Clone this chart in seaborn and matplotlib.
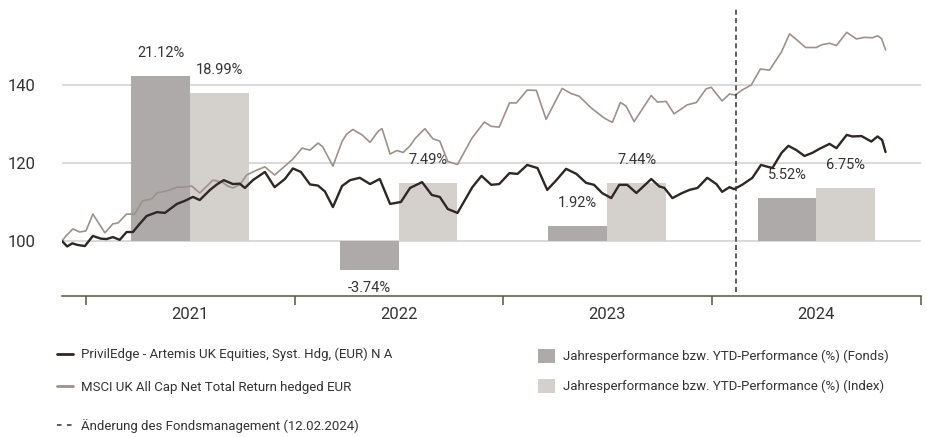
import pandas as pd
import matplotlib
matplotlib.use('Agg')
import matplotlib.pyplot as plt
import matplotlib.dates as mdates
import matplotlib.ticker as mticker
from matplotlib.lines import Line2D
from matplotlib.patches import Patch
import seaborn as sns

fund_dates = [
    '2020-11-20', '2020-11-29', '2020-12-08', '2020-12-17', '2020-12-30',
    '2021-01-13', '2021-01-27', '2021-02-06', '2021-02-17', '2021-03-01', '2021-03-13', '2021-03-24',
    '2021-04-05', '2021-04-17', '2021-05-05', '2021-05-19', '2021-06-09', '2021-06-23', '2021-07-07',
    '2021-07-19', '2021-08-06', '2021-08-18', '2021-08-30', '2021-09-15', '2021-09-27', '2021-10-06',
    '2021-10-20', '2021-11-10', '2021-11-27', '2021-12-15', '2021-12-29',
    '2022-01-12', '2022-01-28', '2022-02-11', '2022-02-23', '2022-03-09', '2022-03-25', '2022-04-08',
    '2022-04-25', '2022-05-13', '2022-05-30', '2022-06-17', '2022-07-06', '2022-07-22', '2022-08-12',
    '2022-08-29', '2022-09-12', '2022-09-26', '2022-10-13', '2022-11-08', '2022-11-24', '2022-12-11',
    '2022-12-25',
    '2023-01-12', '2023-01-26', '2023-02-12', '2023-03-02', '2023-03-19', '2023-04-04', '2023-04-21',
    '2023-05-09', '2023-05-26', '2023-06-09', '2023-06-23', '2023-07-09', '2023-07-23', '2023-08-06',
    '2023-08-22', '2023-09-17', '2023-10-01', '2023-10-10', '2023-10-24', '2023-11-10', '2023-11-23',
    '2023-12-07', '2023-12-24',
    '2024-01-09', '2024-01-19', '2024-02-01', '2024-02-09', '2024-02-23', '2024-03-12', '2024-03-27',
    '2024-04-16', '2024-05-02', '2024-05-14', '2024-05-28', '2024-06-11', '2024-06-25', '2024-07-07',
    '2024-07-25', '2024-08-06', '2024-08-24', '2024-09-03', '2024-09-19', '2024-10-06', '2024-10-17',
    '2024-10-25', '2024-10-31',
]
fund_values = [
    100.0, 98.6, 99.4, 99.0, 98.7,
    101.3, 100.6, 100.5, 101.0, 100.3, 102.3, 102.3,
    104.4, 106.4, 107.4, 107.2, 109.5, 110.3, 111.3,
    110.5, 113.1, 114.5, 115.6, 114.6, 114.7, 113.6,
    115.6, 117.7, 113.8, 115.9, 118.6,
    117.7, 114.5, 114.2, 112.7, 108.7, 114.1, 115.6,
    116.2, 114.6, 115.9, 109.5, 110.0, 113.6, 115.1,
    111.8, 111.3, 108.2, 107.2, 113.8, 116.7, 114.4,
    114.6,
    117.4, 117.2, 119.5, 118.7, 113.1, 115.6, 118.5,
    117.2, 114.9, 114.4, 112.3, 111.0, 114.4, 114.4,
    112.3, 115.9, 114.0, 113.6, 111.0, 112.3, 113.1,
    113.6, 116.2,
    114.6, 112.6, 113.8, 113.3, 114.4, 116.2, 119.5,
    118.7, 122.6, 124.4, 123.3, 121.8, 122.6, 123.6,
    124.9, 123.8, 127.2, 126.8, 126.9, 125.5, 126.8,
    125.9, 122.8,
]

index_dates = [
    '2020-11-20', '2020-11-27', '2020-12-09', '2020-12-21',
    '2021-01-01', '2021-01-13', '2021-02-03', '2021-02-17', '2021-02-26', '2021-03-13', '2021-03-27',
    '2021-04-10', '2021-04-26', '2021-05-05', '2021-05-15', '2021-05-28', '2021-06-09', '2021-06-23',
    '2021-07-05', '2021-07-19', '2021-08-11', '2021-08-27', '2021-09-06', '2021-09-15', '2021-09-27',
    '2021-10-09', '2021-10-27', '2021-11-10', '2021-11-27', '2021-12-11', '2021-12-29',
    '2022-01-14', '2022-01-28', '2022-02-11', '2022-02-19', '2022-03-09', '2022-03-25', '2022-04-02',
    '2022-04-13', '2022-04-29', '2022-05-13', '2022-05-27', '2022-06-03', '2022-06-17', '2022-06-29',
    '2022-07-10', '2022-07-22', '2022-07-31', '2022-08-17', '2022-08-31', '2022-09-12', '2022-09-26',
    '2022-10-13', '2022-11-07', '2022-11-29', '2022-12-11', '2022-12-25',
    '2023-01-12', '2023-01-24', '2023-02-12', '2023-02-28', '2023-03-17', '2023-04-14', '2023-04-30',
    '2023-05-14', '2023-06-04', '2023-06-27', '2023-07-11', '2023-07-25', '2023-08-04', '2023-08-18',
    '2023-09-17', '2023-09-28', '2023-10-13', '2023-10-27', '2023-11-19', '2023-12-05', '2023-12-22',
    '2023-12-31',
    '2024-01-19', '2024-02-01', '2024-02-11', '2024-02-23', '2024-03-10', '2024-03-26', '2024-04-11',
    '2024-05-02', '2024-05-16', '2024-05-30', '2024-06-13', '2024-07-02', '2024-07-11', '2024-07-25',
    '2024-08-06', '2024-08-24', '2024-09-10', '2024-09-24', '2024-10-08', '2024-10-17', '2024-10-24',
    '2024-10-31',
]
index_values = [
    100.0, 101.3, 103.1, 102.3,
    102.6, 106.9, 102.1, 104.4, 104.6, 106.9, 106.9,
    110.3, 110.8, 112.3, 112.6, 113.1, 113.8, 113.8,
    114.1, 112.3, 115.6, 115.1, 114.1, 113.6, 114.4,
    116.9, 118.2, 119.0, 116.9, 118.7, 121.0,
    123.8, 123.3, 125.1, 124.2, 119.2, 125.5, 127.4,
    128.6, 127.2, 125.3, 128.1, 128.8, 122.3, 123.2,
    122.7, 124.4, 126.3, 128.8, 126.2, 125.6, 120.4,
    119.6, 126.3, 130.5, 129.4, 129.2,
    135.4, 135.4, 138.7, 138.6, 131.2, 139.1, 137.8,
    137.1, 134.1, 131.5, 130.4, 135.5, 134.6, 130.6,
    137.3, 135.6, 135.8, 132.6, 134.9, 135.5, 139.0,
    139.4,
    135.9, 137.7, 137.4, 138.7, 140.0, 144.1, 143.8,
    148.5, 153.1, 151.4, 149.6, 149.6, 150.3, 150.7,
    150.1, 153.5, 151.8, 152.2, 152.1, 152.6, 151.9,
    149.0,
]

years = [2021, 2022, 2023, 2024]
perf_fund = [21.12, -3.74, 1.92, 5.52]
perf_index = [18.99, 7.49, 7.44, 6.75]
mgmt_change = '2024-02-12'

label_fund = 'PrivilEdge - Artemis UK Equities, Syst. Hdg, (EUR) N A'
label_index = 'MSCI UK All Cap Net Total Return hedged EUR'
label_bar_fund = 'Jahresperformance bzw. YTD-Performance (%) (Fonds)'
label_bar_index = 'Jahresperformance bzw. YTD-Performance (%) (Index)'
label_change = 'Änderung des Fondsmanagement (12.02.2024)'

# --- Farben ---
c_fund = '#2f2727'
c_index = '#9d918a'
c_bar_fund = '#aeaaa9'
c_bar_index = '#d4d0cc'
c_grid = '#d9d9d9'
c_axis = '#55553f'
c_text = '#333333'

sns.set_theme(style='white')
plt.rcParams['font.family'] = ['Roboto', 'DejaVu Sans']
fs_tick = 12
fs_bar = 10.5
fs_leg = 9.5

df_fund = pd.DataFrame({'Datum': pd.to_datetime(fund_dates), 'Wert': fund_values})
df_index = pd.DataFrame({'Datum': pd.to_datetime(index_dates), 'Wert': index_values})

fig = plt.figure(figsize=(9.28, 4.37), dpi=100)
ax = fig.add_axes([62 / 928, 141 / 437, (921 - 62) / 928, (296 - 5) / 437])
ax_bar = ax.twinx()
ax.set_zorder(ax_bar.get_zorder() + 1)
ax.patch.set_visible(False)

# Balken (Jahresperformance) auf der rechten, unsichtbaren Achse
bar_w = 103  # Tage
mids = [mdates.date2num(pd.Timestamp(f'{y}-07-02')) for y in years]
ax_bar.bar([m - bar_w for m in mids], perf_fund, width=bar_w, align='edge', color=c_bar_fund,
           linewidth=0, zorder=2)
ax_bar.bar(mids, perf_index, width=bar_w, align='edge', color=c_bar_index, linewidth=0, zorder=2)
for m, vf, vi in zip(mids, perf_fund, perf_index):
    for xc, v in ((m - bar_w / 2, vf), (m + bar_w / 2, vi)):
        ax_bar.annotate(f'{v:.2f}%', xy=(xc, v), xytext=(0, 16.5 if v >= 0 else -12.5),
                        textcoords='offset points', ha='center', va='center',
                        fontsize=fs_bar, color=c_text)

ymin, ymax = 85.9, 160.5
ax.set_ylim(ymin, ymax)
ax_bar.set_ylim((ymin - 100) / 2, (ymax - 100) / 2)
ax_bar.set_yticks([0, 10, 20])
ax_bar.yaxis.grid(True, color=c_grid, lw=1.4)
ax_bar.set_axisbelow(True)
ax_bar.tick_params(axis='y', right=False, labelright=False)

# Linien
sns.lineplot(data=df_index, x='Datum', y='Wert', ax=ax, color=c_index, lw=1.2, legend=False, zorder=3)
sns.lineplot(data=df_fund, x='Datum', y='Wert', ax=ax, color=c_fund, lw=1.7, legend=False, zorder=4)

ax.axvline(pd.Timestamp(mgmt_change), ymin=0.014, ymax=0.985, color=c_text, lw=1.1,
           dashes=(3.3, 2.2), zorder=5)

ax.set_xlim(pd.Timestamp('2020-11-20'), pd.Timestamp('2025-01-01'))
ax.set_yticks([100, 120, 140])
ax.set_xlabel('')
ax.set_ylabel('')
ax.grid(False)
ax.tick_params(axis='y', left=False, pad=13, labelsize=fs_tick, labelcolor=c_text)

ax.xaxis.set_major_locator(mdates.YearLocator())
ax.xaxis.set_major_formatter(mticker.NullFormatter())
ax.xaxis.set_minor_locator(mdates.MonthLocator(bymonth=7, bymonthday=2))
ax.xaxis.set_minor_formatter(mdates.DateFormatter('%Y'))
ax.tick_params(axis='x', which='major', bottom=True, length=6.5, width=1.1, color=c_axis, direction='out')
ax.tick_params(axis='x', which='minor', bottom=True, length=0, pad=8, labelsize=fs_tick, labelcolor=c_text)

for a in (ax, ax_bar):
    for s in a.spines.values():
        s.set_visible(False)
ax.spines['bottom'].set_visible(True)
ax.spines['bottom'].set_color(c_axis)
ax.spines['bottom'].set_linewidth(1.1)

# Legenden
leg_kw = dict(frameon=False, fontsize=fs_leg, borderpad=0, borderaxespad=0, labelcolor=c_text,
              handletextpad=0.6)
h_lines = [Line2D([], [], color=c_fund, lw=2), Line2D([], [], color=c_index, lw=2)]
fig.legend(h_lines, [label_fund, label_index], loc='center left',
           bbox_to_anchor=(57 / 928, 1 - 371 / 437), handlelength=1.2, labelspacing=1.5, **leg_kw)
h_dash = [Line2D([], [], color=c_text, lw=1.1, dashes=(3, 3.5))]
fig.legend(h_dash, [label_change], loc='center left',
           bbox_to_anchor=(57 / 928, 1 - 426 / 437), handlelength=1.2, **leg_kw)
h_bars = [Patch(facecolor=c_bar_fund, linewidth=0), Patch(facecolor=c_bar_index, linewidth=0)]
fig.legend(h_bars, [label_bar_fund, label_bar_index], loc='center left',
           bbox_to_anchor=(538 / 928, 1 - 371 / 437), handlelength=1.3, handleheight=1.25,
           labelspacing=1.2, **leg_kw)

fig.savefig('out.png', dpi=100, facecolor='white')
